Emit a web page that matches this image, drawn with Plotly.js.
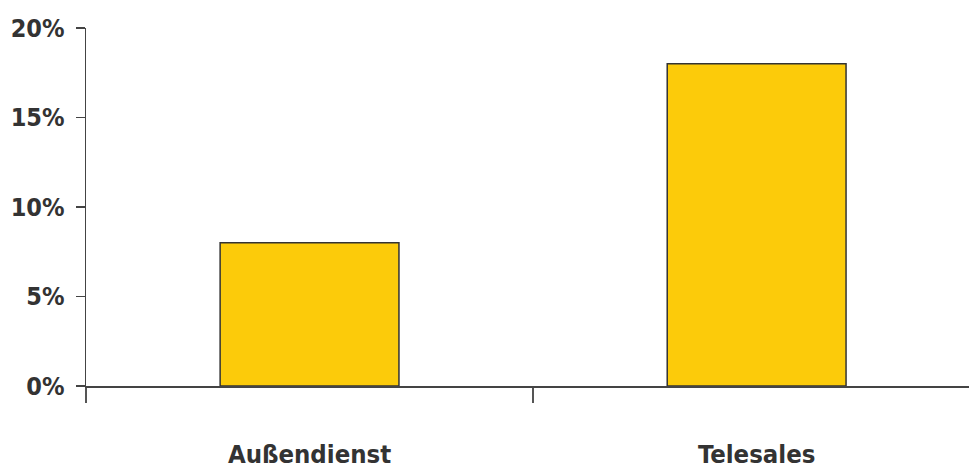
<!DOCTYPE html>
<html>
<head>
<meta charset="utf-8">
<script src="https://cdn.plot.ly/plotly-3.0.1.min.js"></script>
<style>
html,body{margin:0;padding:0;background:#fff;}
#chart{width:969px;height:470px;}
#chart text{font-stretch:condensed !important;}
</style>
</head>
<body>
<div id="chart"></div>
<script>
const categories = ["Außendienst", "Telesales"];
const values = [8, 18];
const yTickVals = [0, 5, 10, 15, 20];
const yTickText = ["0%", "5%", "10%", "15%", "20%"];

const FONT = "'Liberation Sans Narrow', 'Arial Narrow', 'DejaVu Sans', sans-serif";

const trace = {
  type: "bar",
  x: categories,
  y: values,
  width: 0.40,
  marker: { color: "#FCCB0A", line: { color: "#333333", width: 1.5 } },
  hoverinfo: "none"
};

const layout = {
  width: 969,
  height: 470,
  margin: { l: 86, r: 0, t: 28, b: 84, pad: 0 },
  paper_bgcolor: "#ffffff",
  plot_bgcolor: "#ffffff",
  showlegend: false,
  font: { family: FONT, color: "#333333" },
  xaxis: {
    type: "category",
    range: [-0.5, 1.475],
    showgrid: false,
    zeroline: false,
    showline: true,
    linecolor: "#444444",
    linewidth: 2,
    ticks: "outside",
    tickson: "boundaries",
    ticklen: 15,
    tickwidth: 1.5,
    tickcolor: "#555555",
    tickfont: { family: FONT, size: 25.5, color: "#333333", weight: "bold" },
    ticklabelstandoff: 44
  },
  yaxis: {
    range: [0, 20],
    tickvals: yTickVals,
    ticktext: yTickText,
    showgrid: false,
    zeroline: false,
    showline: true,
    linecolor: "#444444",
    linewidth: 1.5,
    ticks: "outside",
    ticklen: 9,
    tickwidth: 1.5,
    tickcolor: "#444444",
    tickfont: { family: FONT, size: 25, color: "#333333", weight: "bold" },
    ticklabelstandoff: 6
  }
};

Plotly.newPlot("chart", [trace], layout, { staticPlot: true, displayModeBar: false });
</script>
</body>
</html>
